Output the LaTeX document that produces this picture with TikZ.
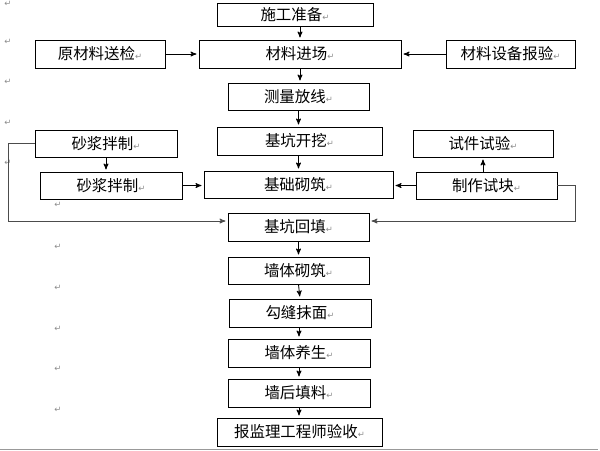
\documentclass[tikz,border=0pt]{standalone}
\usepackage{fontspec}
\usetikzlibrary{arrows,positioning}
\newfontfamily\cjk{Noto Sans CJK SC}
\newfontfamily\symfont{DejaVu Sans}
\newcommand{\retmark}{{\symfont\fontsize{6pt}{6pt}\selectfont\color{black!45}↵}}

\begin{document}
\begin{tikzpicture}[x=0.025cm,y=-0.025cm,>=stealth',shorten >=1.5pt,line width=0.6pt,
    every node/.style={font=\cjk\fontsize{11pt}{13pt}\selectfont},
    blk/.style={draw,inner sep=0pt,minimum height=0.7cm}]
  \useasboundingbox (0,0) rectangle (600,450);

  % main column
  \node[blk,minimum width=3.9cm,minimum height=0.575cm] (sgzb) at (295,14.5)  {施工准备\retmark};
  \node[blk,minimum width=5.05cm]  (cljc) at (300,54)    {材料进场\retmark};
  \node[blk,minimum width=3.525cm,minimum height=0.675cm] (clfx) at (298.5,96.5) {测量放线\retmark};
  \node[blk,minimum width=4.125cm] (jkkw) at (299.5,141) {基坑开挖\retmark};
  \node[blk,minimum width=4.725cm,minimum height=0.675cm] (jczz) at (298.5,184.5) {基础砌筑\retmark};
  \node[blk,minimum width=3.525cm] (jkht) at (298.5,227) {基坑回填\retmark};
  \node[blk,minimum width=3.525cm,minimum height=0.675cm] (qtqz) at (298.5,270.5) {墙体砌筑\retmark};
  \node[blk,minimum width=3.55cm]  (gfmm) at (300,313)   {勾缝抹面\retmark};
  \node[blk,minimum width=3.55cm]  (qtys) at (299,353)   {墙体养生\retmark};
  \node[blk,minimum width=3.55cm]  (qhtl) at (299,393)   {墙后填料\retmark};
  \node[blk,minimum width=4.125cm] (bjys) at (299.5,432) {报监理工程师验收\retmark};

  % side boxes
  \node[blk,minimum width=3.25cm]  (ycsj) at (100,54)    {原材料送检\retmark};
  \node[blk,minimum width=3.225cm] (sbby) at (510.5,54)  {材料设备报验\retmark};
  \node[blk,minimum width=3.55cm,minimum height=0.675cm] (sjbA) at (106,143.5) {砂浆拌制\retmark};
  \node[blk,minimum width=3.55cm,minimum height=0.675cm] (sjbB) at (111,185.5) {砂浆拌制\retmark};
  \node[blk,minimum width=3.5cm,minimum height=0.675cm]  (sjsy) at (483,143.5) {试件试验\retmark};
  \node[blk,minimum width=3.525cm,minimum height=0.675cm] (zzsk) at (486.5,185.5) {制作试块\retmark};

  % stray paragraph marks
  \foreach \x/\y [count=\i] in {8/4,8/42,8/82,8/123,8/163,58/205,58/247,58/288,58/329,58/369,58/410}
    \node[inner sep=0pt] (pm\i) at (\x,\y) {\retmark};

  \tikzset{flow/.style={->}}
  \path (sgzb.south -| cljc) edge [flow] (cljc.north)
        (cljc) edge [flow] (cljc |- clfx.north)
        (clfx) edge [flow] (clfx |- jkkw.north)
        (clfx |- jkkw.south) edge [flow] (clfx |- jczz.north)
        (jkht) edge [flow] (jkht |- qtqz.north)
        (qtqz |- qtqz.south) edge [flow] (gfmm |- gfmm.north)
        (qtys |- gfmm.south) edge [flow] (qtys.north)
        (qtys) edge [flow] (qtys |- qhtl.north)
        (qhtl) edge [flow] (qhtl |- bjys.north);
  \path (ycsj) edge [flow] (cljc)
        (sbby) edge [flow] (cljc)
        (sjbA) edge [flow] (sjbA |- sjbB.north)
        (sjbB) edge [flow] (sjbB -| jczz.west)
        (zzsk) edge [flow] (zzsk -| jczz.east)
        (sjsy |- zzsk.north) edge [flow] (sjsy.south);

  % loops to backfill
  \coordinate (lpL) at (8,221);
  \coordinate (lpR) at (575,221);
  \draw[->,black!70] (sjbA.west) -| (lpL) -- (lpL -| jkht.west);
  \draw[->,black!70] (zzsk.east) -| (lpR) -- (lpR -| jkht.east);

  \draw[black!40] (0,449) -- (600,449);
\end{tikzpicture}
\end{document}
